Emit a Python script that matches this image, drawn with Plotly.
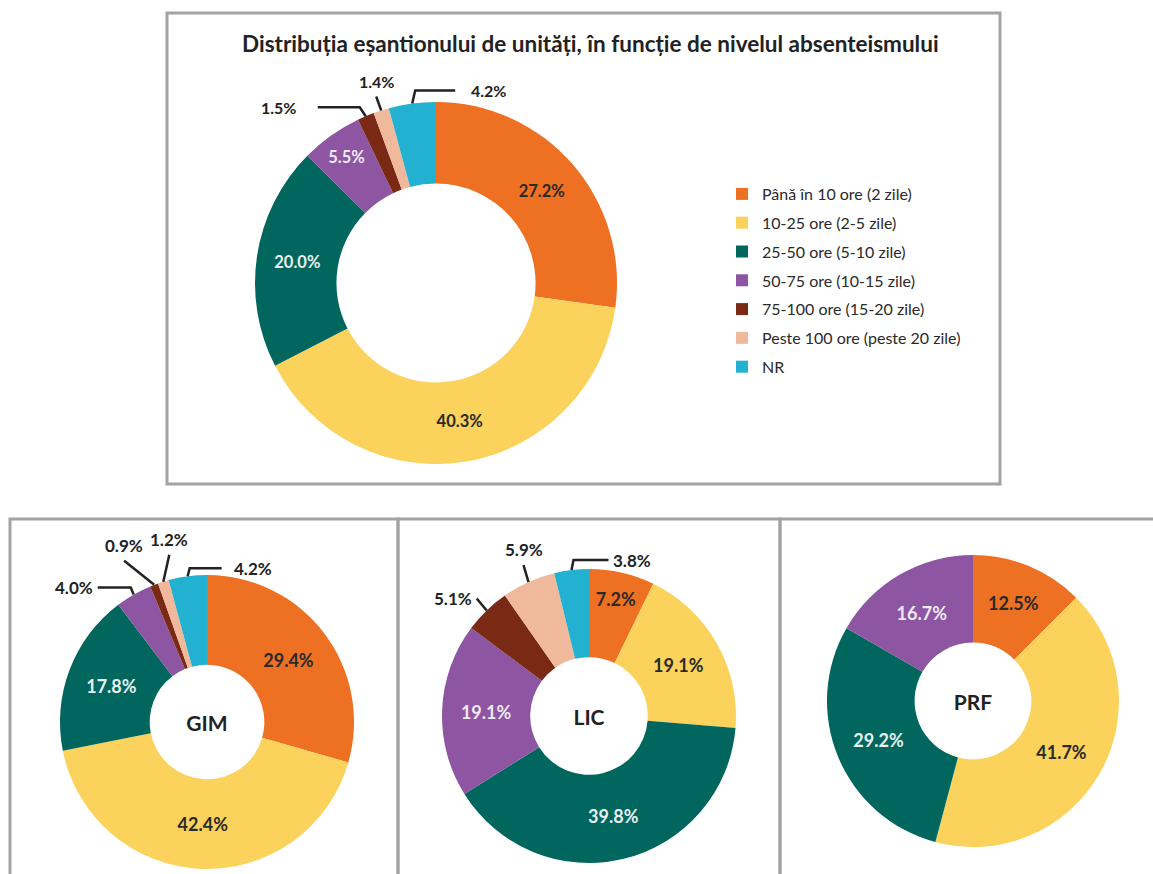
import math
import plotly.graph_objects as go

W, H = 1153, 874
FONT = "Lato, 'Open Sans', sans-serif"

# ---- data ----
categories = [
    "Până în 10 ore (2 zile)",
    "10-25 ore (2-5 zile)",
    "25-50 ore (5-10 zile)",
    "50-75 ore (10-15 zile)",
    "75-100 ore (15-20 zile)",
    "Peste 100 ore (peste 20 zile)",
    "NR",
]
total_values = [27.2, 40.3, 20.0, 5.5, 1.5, 1.4, 4.2]
gim_values = [29.4, 42.4, 17.8, 4.0, 0.9, 1.2, 4.2]
lic_values = [7.2, 19.1, 39.8, 19.1, 5.1, 5.9, 3.8]
prf_values = [12.5, 41.7, 29.2, 16.7, 0, 0, 0]
panel_names = ["", "GIM", "LIC", "PRF"]
title_text = "Distribuția eșantionului de unități, în funcție de nivelul absenteismului"

# ---- style ----
colors = ["#EE7023", "#FAD25C", "#00665E", "#8D55A2", "#7A2A14", "#F1B99B", "#22B1D1"]
text_colors = ["#2a2a2a", "#2a2a2a", "#e8f0f0", "#f0eaf4", "#ffffff", "#2a2a2a", "#2a2a2a"]
INK = "#222222"
BORDER = "#a3a3a3"

# pixel geometry per donut: center x, center y, radius, hole, label sizes
geom = [
    dict(cx=436, cy=283, r=181, hole=0.55, fs=16.5, ofs=16),
    dict(cx=207, cy=722, r=147, hole=0.39, fs=18, ofs=17),
    dict(cx=589, cy=716, r=147, hole=0.40, fs=18, ofs=17),
    dict(cx=973, cy=701, r=146, hole=0.40, fs=18, ofs=17),
]
# outside labels: slice index -> (dx1, dy1, dx2, anchor, gap)
callouts = [
    {6: (3, -13, 40, "left", 14), 5: (-5, -14, 0, "above", 3), 4: (-6, -9, -42, "right", 20)},
    {6: (2, -8, 32, "left", 10), 5: (6, -27, 0, "above", 3), 4: (-30, -24, 0, "above", 3),
     3: (-3, -7, -33, "right", 3)},
    {6: (2, -10, 35, "left", 3), 5: (-5, -17, 0, "above", 3), 4: (-10, -12, 0, "right", 3)},
    {},
]


def px(x):
    return x / W


def py(y):
    return 1 - y / H


fig = go.Figure()
shapes = []
annotations = []

for k, values in enumerate([total_values, gim_values, lic_values, prf_values]):
    g = geom[k]
    outside = callouts[k]
    pos = ["none" if (i in outside or v == 0) else "inside" for i, v in enumerate(values)]
    fig.add_trace(go.Pie(
        values=values,
        labels=categories,
        text=[f"{v:.1f}%" for v in values],
        textinfo="text",
        textposition=pos,
        insidetextorientation="horizontal",
        textfont=dict(family=FONT, size=g["fs"], color=text_colors, weight="bold"),
        marker=dict(colors=colors, line=dict(width=0)),
        hole=g["hole"],
        sort=False,
        direction="clockwise",
        rotation=0,
        showlegend=False,
        title=dict(text=panel_names[k], position="middle center",
                   font=dict(family=FONT, size=21, color=INK, weight="bold")),
        domain=dict(x=[px(g["cx"] - g["r"]), px(g["cx"] + g["r"])],
                    y=[py(g["cy"] + g["r"]), py(g["cy"] - g["r"])]),
    ))

    # leader lines for small slices, anchored at the slice mid-angle
    total = sum(values)
    cum = 0
    for i, v in enumerate(values):
        mid = (cum + v / 2) / total * 2 * math.pi
        cum += v
        if i not in outside:
            continue
        dx1, dy1, dx2, anchor, gap = outside[i]
        x0 = g["cx"] + g["r"] * math.sin(mid)
        y0 = g["cy"] - g["r"] * math.cos(mid)
        x1, y1 = x0 + dx1, y0 + dy1
        x2, y2 = x1 + dx2, y1
        shapes.append(dict(
            type="path", xref="paper", yref="paper",
            path=f"M {px(x0)},{py(y0)} L {px(x1)},{py(y1)} L {px(x2)},{py(y2)}",
            line=dict(color=INK, width=2.5),
        ))
        lab = f"{v:.1f}%"
        if anchor == "left":
            a = dict(x=px(x2 + gap), y=py(y2), xanchor="left", yanchor="middle")
        elif anchor == "right":
            a = dict(x=px(x2 - gap), y=py(y2), xanchor="right", yanchor="middle")
        else:
            a = dict(x=px(x2), y=py(y2 - gap), xanchor="center", yanchor="bottom")
        annotations.append(dict(
            text=lab, xref="paper", yref="paper", showarrow=False,
            font=dict(family=FONT, size=g["ofs"], color=INK, weight="bold"), **a))

# legend via marker-only traces
for i, cat in enumerate(categories):
    fig.add_trace(go.Scatter(
        x=[None], y=[None], mode="markers", name=cat, legendgroup=f"g{i}",
        marker=dict(symbol="square", size=12, color=colors[i]),
        hoverinfo="skip",
    ))

# panel frames
frames = [(167, 13, 1000, 484), (10, 519, 398, 890), (398, 519, 780, 890), (780, 519, 1160, 890)]
for x0, y0, x1, y1 in frames:
    shapes.append(dict(type="rect", xref="paper", yref="paper",
                       x0=px(x0), y0=py(y1), x1=px(x1), y1=py(y0),
                       line=dict(color=BORDER, width=3), layer="below"))

annotations.append(dict(
    text=title_text, xref="paper", yref="paper", x=px(590), y=py(43),
    xanchor="center", yanchor="middle", showarrow=False,
    font=dict(family=FONT, size=22.5, color=INK, weight="bold")))

fig.update_layout(
    width=W, height=H,
    margin=dict(l=0, r=0, t=0, b=0),
    paper_bgcolor="white", plot_bgcolor="white",
    xaxis=dict(visible=False), yaxis=dict(visible=False),
    font=dict(family=FONT, color=INK),
    legend=dict(x=px(722), y=py(177), xanchor="left", yanchor="top",
                font=dict(family=FONT, size=16, color="#2a2a2a"),
                tracegroupgap=5, itemwidth=30, bgcolor="rgba(0,0,0,0)"),
    shapes=shapes,
    annotations=annotations,
)

fig.write_html("out.html", config={"displayModeBar": False},
               post_script="document.body.style.margin='0';")
